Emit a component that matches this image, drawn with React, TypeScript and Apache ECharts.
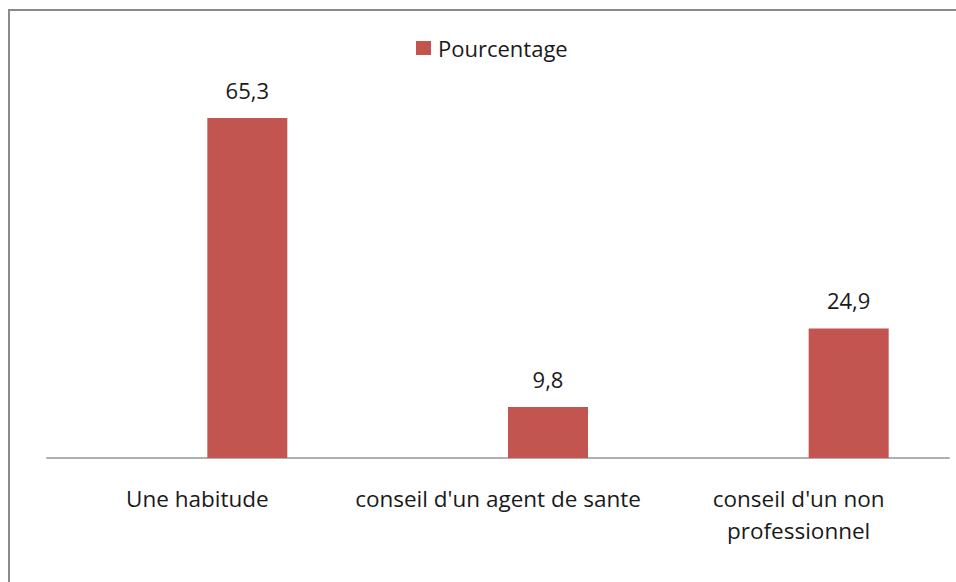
import React, { useEffect, useRef } from "react";
import * as echarts from "echarts";

const categories = ["Une habitude", "conseil d'un agent de sante", "conseil d'un non\nprofessionnel"];
const seriesName = "Pourcentage";
const values = [65.3, 9.8, 24.9];
const emptyValues = ["-", "-", "-"];

export default function App() {
  const ref = useRef<HTMLDivElement>(null);
  useEffect(() => {
    if (!ref.current) return;
    const chart = echarts.init(ref.current, null, { renderer: "svg" });
    const font = "'Open Sans', 'Liberation Sans', sans-serif";
    chart.setOption({
      animation: false,
      backgroundColor: "#ffffff",
      graphic: [
        {
          type: "rect",
          shape: { x: 9, y: 10, width: 980, height: 600 },
          style: { fill: "none", stroke: "#8a8a8a", lineWidth: 2 },
          silent: true,
        },
      ],
      legend: {
        data: [seriesName],
        left: 416,
        top: 37,
        padding: 0,
        itemWidth: 15,
        itemHeight: 14,
        icon: "rect",
        itemGap: 6,
        textStyle: { fontFamily: font, fontSize: 22, color: "#1a1a1a", padding: [0, 0, 0, 2] },
      },
      grid: { left: 47, right: 7, top: 93.6, bottom: 124, containLabel: false },
      xAxis: {
        type: "category",
        data: categories,
        axisLine: { lineStyle: { color: "#b0b0b0", width: 2 } },
        axisTick: { show: false },
        axisLabel: {
          margin: 24,
          fontFamily: font,
          fontSize: 22.5,
          lineHeight: 32,
          color: "#1a1a1a",
          interval: 0,
        },
      },
      yAxis: {
        type: "value",
        min: 0,
        max: 70,
        interval: 10,
        show: false,
        splitLine: { show: false },
      },
      series: [
        {
          name: "_empty",
          type: "bar",
          data: emptyValues,
          barWidth: 80,
          barGap: "25%",
        },
        {
          name: seriesName,
          type: "bar",
          data: values,
          barWidth: 80,
          barGap: "25%",
          itemStyle: { color: "#c25550" },
          label: {
            show: true,
            position: "top",
            distance: 17,
            fontFamily: font,
            fontSize: 22,
            color: "#1a1a1a",
            formatter: (p: any) => String(p.value).replace(".", ","),
          },
        },
      ],
    });
    return () => chart.dispose();
  }, []);
  return (
    <div
      ref={ref}
      style={{ position: "absolute", left: 0, top: 0, width: 956, height: 582 }}
    />
  );
}
